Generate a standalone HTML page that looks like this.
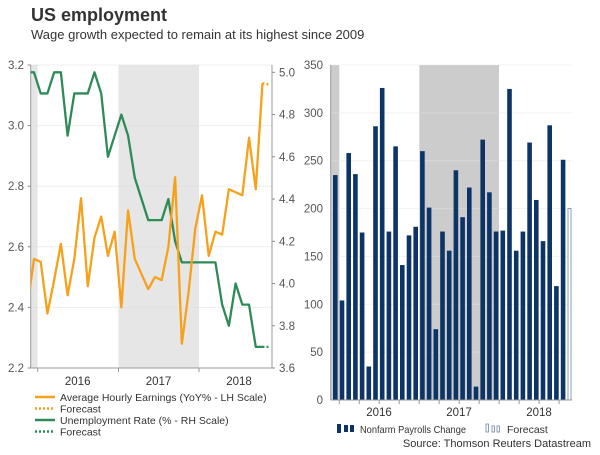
<!DOCTYPE html>
<html><head><meta charset="utf-8"><style>
body{margin:0;background:#fff;width:600px;height:450px;overflow:hidden;font-family:"Liberation Sans",sans-serif;}
svg text{font-family:"Liberation Sans",sans-serif;}
</style></head><body>
<svg id="c" width="600" height="450" viewBox="0 0 600 450">
<text x="31" y="21" font-size="18" font-weight="bold" fill="#333">US employment</text>
<text x="31" y="39" font-size="13" fill="#333">Wage growth expected to remain at its highest since 2009</text>
<text x="591" y="447" font-size="11" fill="#333" text-anchor="end">Source: Thomson Reuters Datastream</text>
<g id="left"></g>
<g id="right"></g>
</svg>
<script>
const years=["2016","2017","2018"];
const earnings=[2.56,2.55,2.38,2.49,2.61,2.44,2.56,2.76,2.47,2.63,2.70,2.57,2.65,2.40,2.72,2.56,2.51,2.46,2.50,2.49,2.60,2.83,2.28,2.45,2.66,2.77,2.57,2.65,2.64,2.79,2.78,2.77,2.96,2.79,3.14];
const earningsPrev=2.40;
const earningsForecast=3.135;
const unemp=[5.0,4.9,4.9,5.0,5.0,4.7,4.9,4.9,4.9,5.0,4.9,4.6,4.7,4.8,4.7,4.5,4.4,4.3,4.3,4.3,4.4,4.2,4.1,4.1,4.1,4.1,4.1,4.1,3.9,3.8,4.0,3.9,3.9,3.7,3.7];
const unempPrev=5.0;
const unempForecast=3.7;
const payrolls=[235,104,258,236,175,35,286,326,176,265,141,172,181,260,201,74,176,156,240,191,222,14,272,217,176,177,325,156,176,269,209,166,287,119,251];
const payrollsForecast=200;
const leftTicks=[2.2,2.4,2.6,2.8,3.0,3.2];
const rightTicks=[3.6,3.8,4.0,4.2,4.4,4.6,4.8,5.0];
const barTicks=[0,50,100,150,200,250,300,350];

const NS="http://www.w3.org/2000/svg";
function mk(p,tag,at,txt){const e=document.createElementNS(NS,tag);for(const k in at)e.setAttribute(k,at[k]);if(txt!=null)e.textContent=txt;p.appendChild(e);return e;}
const OR="#f7a11a",GR="#2e8b57",NV="#0d3466";

// LEFT
const L=document.getElementById('left');
const lx0=30.7,lx1=272,ly0=65,ly1=368;
const lxi=i=>34+i*6.72;
const yl=v=>ly1-(v-2.2)/1.0*(ly1-ly0);
const yr=v=>ly1-(v-3.6)/1.4*(ly1-ly0-7.3);
const yearStart=[37.7,118.5,199];
let s;
s=mk(L,'rect',{x:lx0,y:ly0,width:yearStart[0]-lx0,height:ly1-ly0,fill:'#e6e6e6'});

s=mk(L,'rect',{x:yearStart[1],y:ly0,width:yearStart[2]-yearStart[1],height:ly1-ly0,fill:'#e6e6e6'});

leftTicks.forEach(v=>{const y=yl(v);
 if(v>2.2){const g=mk(L,'line',{x1:lx0,x2:lx1,y1:y,y2:y,stroke:'#ddd','stroke-dasharray':'1,1'});}
 const t=mk(L,'text',{x:24,y:y+4,'font-size':11.5,fill:'#555','text-anchor':'end'},v.toFixed(1));
 
 mk(L,'line',{x1:lx0-3,x2:lx0,y1:y,y2:y,stroke:'#888'});});
rightTicks.forEach(v=>{const y=yr(v);
 const t=mk(L,'text',{x:279,y:y+4,'font-size':11.5,fill:'#555'},v.toFixed(1));
 
 mk(L,'line',{x1:lx1,x2:lx1+3,y1:y,y2:y,stroke:'#888'});});
mk(L,'line',{x1:lx0,x2:lx0,y1:ly0,y2:ly1,stroke:'#999'});
mk(L,'line',{x1:lx1,x2:lx1,y1:ly0,y2:ly1,stroke:'#999'});
mk(L,'line',{x1:lx0,x2:lx1,y1:ly1,y2:ly1,stroke:'#999'});
yearStart.forEach(x=>mk(L,'line',{x1:x,x2:x,y1:ly1,y2:ly1+4,stroke:'#999'}));
years.forEach((y,i)=>{const t=mk(L,'text',{x:yearStart[i]+40,y:385,'font-size':11.5,fill:'#333','text-anchor':'middle'},y);
 });
mk(mk(L,'defs',{}),'clipPath',{id:'lc'});
mk(L.querySelector('#lc'),'rect',{x:lx0,y:0,width:lx1-lx0,height:450});
function line(arr,prev,fc,ys,col,name){
 const pts=[[lxi(-1),ys(prev)]].concat(arr.map((v,i)=>[lxi(i),ys(v)]));
 const p=mk(L,'polyline',{points:pts.map(p=>p.join(',')).join(' '),fill:'none',stroke:col,'stroke-width':2.3,'clip-path':'url(#lc)','stroke-linejoin':'round'});
 
 const n=arr.length;
 const f=mk(L,'line',{x1:lxi(n-1),y1:ys(arr[n-1]),x2:lxi(n),y2:ys(fc),stroke:col,'stroke-width':2.3,'stroke-dasharray':'2,2'});
 
}
line(unemp,unempPrev,unempForecast,yr,GR,'unemployment-line');
line(earnings,earningsPrev,earningsForecast,yl,OR,'earnings-line');
// legend left
[[OR,0,'Average Hourly Earnings (YoY% - LH Scale)'],[OR,1,'Forecast'],[GR,0,'Unemployment Rate (% - RH Scale)'],[GR,1,'Forecast']].forEach((d,i)=>{
 const y=397+i*11.5;
 mk(L,'line',{x1:35,x2:55,y1:y,y2:y,stroke:d[0],'stroke-width':2.5,'stroke-dasharray':d[1]?'2,2':'none'});
 const t=mk(L,'text',{x:60,y:y+4,'font-size':10.5,fill:'#333'},d[2]);
 });

// RIGHT
const R=document.getElementById('right');
const rx0=330.7,rx1=572,ry0=65,ry1=400;
const rxi=i=>335.3+i*6.7;
const yb=v=>ry1-v/350*(ry1-ry0);
s=mk(R,'rect',{x:rx0,y:ry0,width:339.3-rx0,height:ry1-ry0,fill:'#cccccc'});

s=mk(R,'rect',{x:419.3,y:ry0,width:499-419.3,height:ry1-ry0,fill:'#cccccc'});

barTicks.forEach(v=>{const y=yb(v);
 if(v>0)mk(R,'line',{x1:rx0,x2:rx1,y1:y,y2:y,stroke:'#e4e4e4','stroke-dasharray':'1,1'});
 const t=mk(R,'text',{x:323,y:y+4,'font-size':11.5,fill:'#555','text-anchor':'end'},v);
 });
payrolls.forEach((v,i)=>{const b=mk(R,'rect',{x:rxi(i)-2.3,y:yb(v),width:4.6,height:ry1-yb(v),fill:NV});
 });
s=mk(R,'rect',{x:rxi(payrolls.length)-1.8,y:yb(payrollsForecast),width:3,height:ry1-yb(payrollsForecast),fill:'#fff',stroke:'#6d87aa','stroke-width':0.8});

mk(R,'line',{x1:rx0,x2:rx0,y1:ry0,y2:ry1,stroke:'#999'});
mk(R,'line',{x1:rx0,x2:rx1,y1:ry1,y2:ry1,stroke:'#999'});
for(let k=0;k<12;k++){const x=339.3+k*19.98;mk(R,'line',{x1:x,x2:x,y1:ry1,y2:ry1+4,stroke:'#999'});}
years.forEach((y,i)=>{const t=mk(R,'text',{x:379+i*80,y:416,'font-size':11.5,fill:'#333','text-anchor':'middle'},y);
 });
[337,344,350].forEach((x,i)=>mk(R,'rect',{x:x,y:i?425:424,width:4,height:i?7:9,fill:NV}));
let t=mk(R,'text',{x:360,y:433,'font-size':10.5,fill:'#333',textLength:106,lengthAdjust:'spacingAndGlyphs'},'Nonfarm Payrolls Change');

[486,492,497].forEach((x,i)=>mk(R,'rect',{x:x,y:i?426:424,width:2.5,height:i?6:8,fill:'#fff',stroke:'#6d87aa','stroke-width':0.8}));
t=mk(R,'text',{x:507,y:433,'font-size':10.5,fill:'#333'},'Forecast');

</script>
</body></html>
